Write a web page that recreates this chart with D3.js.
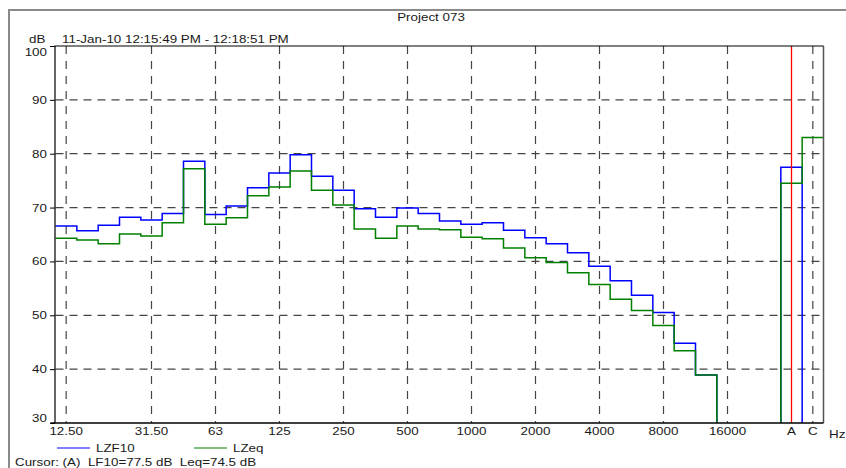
<!DOCTYPE html>
<html>
<head>
<meta charset="utf-8">
<script src="https://cdn.jsdelivr.net/npm/d3@7"></script>
<style>
  body { margin: 0; background: #fff; }
  text { font-family: "Liberation Sans", Arial, sans-serif; font-size: 10px; fill: #1a1a1a; }
</style>
</head>
<body>
<script>
// third-octave bands, then a spacer and the A / C overall values
const bands = ["12.5", "16", "20", "25", "31.5", "40", "50", "63", "80", "100", "125", "160",
  "200", "250", "315", "400", "500", "630", "800", "1000", "1250", "1600", "2000", "2500",
  "3150", "4000", "5000", "6300", "8000", "10000", "12500", "16000", "20000", "gap", "A", "C"];

const tickBands = ["12.5", "31.5", "63", "125", "250", "500", "1000", "2000", "4000", "8000", "16000", "A", "C"];
const tickText = ["12.50", "31.50", "63", "125", "250", "500", "1000", "2000", "4000", "8000", "16000", "A", "C"];

const yTicks = [30, 40, 50, 60, 70, 80, 90, 100];

const lzf10 = [66.6, 65.7, 66.7, 68.2, 67.7, 68.9, 78.6, 68.7, 70.3, 73.7, 76.4, 79.8,
  75.8, 73.2, 69.8, 68.2, 69.9, 68.9, 67.5, 66.9, 67.2, 65.8, 64.4, 63.3,
  61.6, 59.1, 56.4, 53.7, 50.5, 44.8, 38.9, null, null, null, 77.5, null];

const lzeq = [64.3, 64.0, 63.3, 65.1, 64.7, 67.2, 77.2, 66.9, 68.1, 72.2, 73.8, 76.8,
  73.2, 70.5, 66.0, 64.3, 66.6, 66.0, 65.9, 64.5, 64.2, 62.5, 60.7, 59.8,
  57.9, 55.7, 53.0, 50.9, 48.1, 43.4, 38.9, null, null, null, 74.5, 83.0];

const cursorBand = "A";

const width = 846, height = 468;
const plotLeft = 55.5, plotRight = 823.5, plotTop = 46, plotBottom = 423;
const textStretch = 1.34; // the original lettering is wider than plain Arial

const svg = d3.create("svg")
  .attr("width", width)
  .attr("height", height);

const x = d3.scaleBand().domain(bands).range([plotLeft, plotRight]).padding(0);
const y = d3.scaleLinear().domain([30, 100]).range([plotBottom, plotTop]);
const bw = x.bandwidth();
const cx = b => x(b) + bw / 2;

// widen text horizontally around its anchor point
function stretch(sel) {
  sel.each(function () {
    const t = d3.select(this);
    const tx = +t.attr("x") || 0, ty = +t.attr("y") || 0;
    t.attr("x", 0).attr("y", 0)
      .attr("transform", `translate(${tx},${ty}) scale(${textStretch},1)`);
  });
}

// outer frame (grey)
svg.append("path")
  .attr("d", `M9,${height} L9,10 L${width},10`)
  .attr("fill", "none")
  .attr("stroke", "#8a8a8a")
  .attr("stroke-width", 2);

// grid
svg.append("g")
  .selectAll("line")
  .data(yTicks.filter(d => d > 30 && d < 100))
  .join("line")
  .attr("x1", plotLeft).attr("x2", plotRight)
  .attr("y1", d => y(d)).attr("y2", d => y(d))
  .attr("stroke", "#444")
  .attr("stroke-width", 1.2)
  .attr("stroke-dasharray", "8,6");

svg.append("g")
  .selectAll("line")
  .data(tickBands.filter(b => b !== cursorBand))
  .join("line")
  .attr("x1", d => cx(d)).attr("x2", d => cx(d))
  .attr("y1", plotTop).attr("y2", plotBottom)
  .attr("stroke", "#444")
  .attr("stroke-width", 1.2)
  .attr("stroke-dasharray", "8,7");

// step lines: each run rises from the floor and drops back to it,
// except where it touches the plot's left or right edge
function runs(values) {
  const out = [];
  let cur = null;
  values.forEach((v, i) => {
    if (v == null) { cur = null; return; }
    if (!cur) { cur = []; out.push(cur); }
    cur.push([bands[i], v]);
  });
  return out.map(r => {
    const first = r[0][0], last = r[r.length - 1][0];
    const pts = [];
    if (first !== bands[0]) pts.push([x(first), y(30)]);
    r.forEach(([b, v]) => { pts.push([x(b), y(v)], [x(b) + bw, y(v)]); });
    if (last !== bands[bands.length - 1]) pts.push([x(last) + bw, y(30)]);
    return pts;
  });
}

const line = d3.line();

svg.append("g")
  .selectAll("path")
  .data(runs(lzf10))
  .join("path")
  .attr("d", line)
  .attr("fill", "none")
  .attr("stroke", "#0000ff")
  .attr("stroke-width", 1.5);

svg.append("g")
  .selectAll("path")
  .data(runs(lzeq))
  .join("path")
  .attr("d", line)
  .attr("fill", "none")
  .attr("stroke", "#008000")
  .attr("stroke-width", 1.5);

// cursor
svg.append("line")
  .attr("x1", cx(cursorBand)).attr("x2", cx(cursorBand))
  .attr("y1", plotTop).attr("y2", plotBottom)
  .attr("stroke", "#ff0000")
  .attr("stroke-width", 1.3);

// plot border
svg.append("line").attr("x1", plotRight).attr("x2", plotRight).attr("y1", plotTop).attr("y2", plotBottom)
  .attr("stroke", "#555").attr("stroke-width", 1.5);
svg.append("path")
  .attr("d", `M${plotLeft - 0.5},${plotBottom} L${plotLeft - 0.5},${plotTop} L${plotRight},${plotTop}`)
  .attr("fill", "none").attr("stroke", "#000").attr("stroke-width", 1.2);
svg.append("line").attr("x1", plotLeft - 5).attr("x2", plotRight).attr("y1", plotBottom).attr("y2", plotBottom)
  .attr("stroke", "#000").attr("stroke-width", 1.5);

// y axis
const yAxis = svg.append("g")
  .attr("transform", `translate(${plotLeft - 0.5},0)`)
  .call(d3.axisLeft(y).tickValues(yTicks).tickSize(5).tickPadding(3));
yAxis.select(".domain").remove();
yAxis.selectAll("line").attr("stroke", "#000");
yAxis.selectAll("text")
  .attr("fill", "#1a1a1a")
  .style("font-size", "10px")
  .attr("dy", d => d === 100 ? "1em" : d === 30 ? "-0.15em" : "0.35em")
  .call(stretch);

// x axis labels
const xAxis = svg.append("g")
  .attr("transform", `translate(0,${plotBottom})`)
  .call(d3.axisBottom(x).tickValues(tickBands).tickSize(0).tickPadding(5)
    .tickFormat(d => tickText[tickBands.indexOf(d)]));
xAxis.select(".domain").remove();
xAxis.selectAll("text").attr("fill", "#1a1a1a").style("font-size", "10px").call(stretch);

svg.append("text").attr("x", 829).attr("y", 438).text("Hz").call(stretch);

// titles
svg.append("text").attr("x", 431).attr("y", 21).attr("text-anchor", "middle").text("Project 073").call(stretch);
svg.append("text").attr("x", 29).attr("y", 43).text("dB").call(stretch);
svg.append("text").attr("x", 62).attr("y", 43).text("11-Jan-10 12:15:49 PM - 12:18:51 PM").call(stretch);

// legend
const legend = [["LZF10", "#0000ff", 57], ["LZeq", "#008000", 194]];
const lg = svg.append("g").selectAll("g").data(legend).join("g");
lg.append("line")
  .attr("x1", d => d[2]).attr("x2", d => d[2] + 33)
  .attr("y1", 448).attr("y2", 448)
  .attr("stroke", d => d[1]).attr("stroke-width", 1.2);
lg.append("text")
  .attr("x", d => d[2] + 39).attr("y", 452)
  .text(d => d[0])
  .call(stretch);

svg.append("text").attr("x", 15).attr("y", 466)
  .attr("xml:space", "preserve")
  .text(`Cursor: (${cursorBand})  LF10=${lzf10[bands.indexOf(cursorBand)]} dB  Leq=${lzeq[bands.indexOf(cursorBand)]} dB`)
  .call(stretch);

document.body.appendChild(svg.node());
</script>
</body>
</html>
